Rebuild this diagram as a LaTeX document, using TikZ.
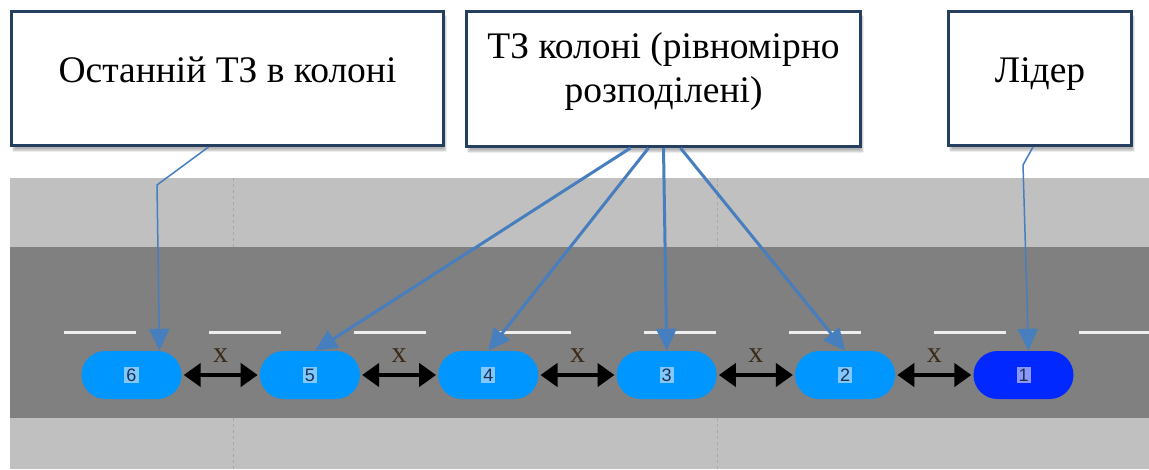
\documentclass[tikz,border=0pt]{standalone}
\usepackage{fontspec}
\setmainfont{Liberation Serif}
\setsansfont{Liberation Sans}
\usepackage{tikz}
\usetikzlibrary{positioning, arrows.meta, shadows.blur}

\definecolor{roadlight}{RGB}{192,192,192}
\definecolor{roaddark}{RGB}{128,128,128}
\definecolor{lanemark}{RGB}{238,238,238}
\definecolor{edgemark}{RGB}{168,168,168}
\definecolor{carblue}{RGB}{0,150,255}
\definecolor{leadblue}{RGB}{0,40,255}
\definecolor{tagblue}{RGB}{128,200,255}
\definecolor{leadtag}{RGB}{140,150,255}
\definecolor{tagtext}{RGB}{30,50,80}
\definecolor{pointer}{RGB}{70,126,190}
\definecolor{boxline}{RGB}{36,63,96}
\definecolor{gaplabel}{RGB}{60,42,25}

\newcommand{\carno}[2]{{\setlength{\fboxsep}{2pt}\colorbox{#1}{#2}}}

\begin{document}
\begin{tikzpicture}
    [x=1pt, y=-1pt,
    callout/.style={rectangle, draw=boxline, line width=3pt, fill=white, inner sep=0pt, align=center,
        font=\fontsize{37.5}{44}\selectfont,
        blur shadow={shadow xshift=2pt, shadow yshift=-5pt, shadow blur steps=8, shadow opacity=30}},
    car/.style={rectangle, rounded corners=24pt, minimum width=100pt, minimum height=48pt, inner sep=0pt,
        fill=carblue, text=tagtext, font=\sffamily\fontsize{18}{18}\selectfont},
    gap/.style={{Triangle[length=17pt,width=23pt]}-{Triangle[length=17pt,width=23pt]}, line width=4.5pt,
        shorten <=2pt, shorten >=2pt},
    gaplab/.style={above=7pt, text=gaplabel, font=\fontsize{30}{30}\selectfont},
    thinptr/.style={draw=pointer, line width=1.5pt, -{Triangle[length=22pt,width=20pt]}},
    thickptr/.style={draw=pointer, line width=3pt, -{Triangle[length=22pt,width=20pt]}}]

    \useasboundingbox (0,0) rectangle (1149,469);

    %Road
    \fill[roadlight] (10,178) rectangle (1149,469);
    \fill[roaddark] (10,247) rectangle (1149,418);
    \foreach \x in {233,717} {
        \draw[edgemark, dashed, line width=1pt] (\x,178) -- (\x,247);
        \draw[edgemark, dashed, line width=1pt] (\x,418) -- (\x,469);
    }
    \foreach \x in {64,209,...,1079}
        \draw[lanemark, line width=3pt] (\x,332) -- ({min(\x+72,1149)},332);

    %Nodes
    \node[car](v6) at (131.5,375) {\carno{tagblue}{6}};
    \node[car](v5)[right=78pt of v6]{\carno{tagblue}{5}};
    \node[car](v4)[right=78pt of v5]{\carno{tagblue}{4}};
    \node[car](v3)[right=78pt of v4]{\carno{tagblue}{3}};
    \node[car](v2)[right=78pt of v3]{\carno{tagblue}{2}};
    \node[car, fill=leadblue](v1)[right=78pt of v2]{\carno{leadtag}{1}};

    \node[callout, minimum width=432pt, text height=70.5pt, text depth=63.5pt](last) at (227.5,78.5)
        {Останній ТЗ в колоні};
    \node[callout, minimum width=394pt, text height=90.5pt, text depth=44.5pt](spread) at (663.5,79)
        {ТЗ колоні (рівномірно\\розподілені)};
    \node[callout, minimum width=183pt, text height=70.5pt, text depth=63.5pt](leader) at (1040,78.5)
        {Лідер};

    \coordinate(bend6) at (157,185);
    \coordinate(bend1) at (1023,165);

    %Lines
    \draw[gap](v6) -- node[gaplab]{x} (v5);
    \draw[gap](v5) -- node[gaplab]{x} (v4);
    \draw[gap](v4) -- node[gaplab]{x} (v3);
    \draw[gap](v3) -- node[gaplab]{x} (v2);
    \draw[gap](v2) -- node[gaplab]{x} (v1);

    \draw[thinptr]([xshift=-19pt]last.south) -- (bend6) -- ([xshift=28pt]v6.north);
    \draw[thickptr]([xshift=-33pt]spread.south) -- ([xshift=5pt]v5.north);
    \draw[thickptr]([xshift=-15pt]spread.south) -- (v4.north);
    \draw[thickptr](spread.south) -- (v3.north);
    \draw[thickptr]([xshift=17pt]spread.south) -- (v2.north);
    \draw[thinptr]([xshift=-7pt]leader.south) -- (bend1) -- ([xshift=5pt]v1.north);
\end{tikzpicture}
\end{document}
